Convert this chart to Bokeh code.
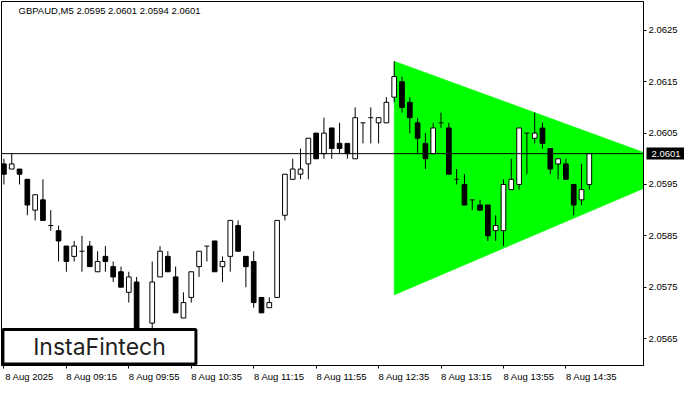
from bokeh.plotting import figure
from bokeh.models import FixedTicker, Span, Label, Range1d, PrintfTickFormatter, LinearAxis
from bokeh.embed import file_html
from bokeh.resources import INLINE

# ---------------- data ----------------
chart_title = "GBPAUD,M5  2.0595 2.0601 2.0594 2.0601"

opens = [2.0599, 2.0598, 2.0598, 2.0596, 2.0590, 2.0592, 2.0587, 2.0586, 2.0583, 2.0581,
         2.0582, 2.0583, 2.0578, 2.0581, 2.0579, 2.0578, 2.0574, 2.0576, 2.0565, 2.0568,
         2.0577, 2.0581, 2.0577, 2.0569, 2.0573, 2.0579, 2.0583, 2.0584, 2.0579, 2.0581,
         2.0587, 2.0581, 2.0580, 2.0573, 2.0571, 2.0573, 2.0589, 2.0596, 2.0597, 2.0599,
         2.0605, 2.0601, 2.0606, 2.0603, 2.0603, 2.0600, 2.0607, 2.0608, 2.0607, 2.0607,
         2.0612, 2.0615, 2.0611, 2.0607, 2.0603, 2.0601, 2.0607, 2.0606, 2.0596, 2.0595,
         2.0592, 2.0591, 2.0591, 2.0586, 2.0586, 2.0594, 2.0595, 2.0605, 2.0604, 2.0606,
         2.0602, 2.0599, 2.0599, 2.0595, 2.0592, 2.0595]
highs = [2.0600, 2.0601, 2.0598, 2.0596, 2.0593, 2.0596, 2.0590, 2.0587, 2.0583, 2.0584,
         2.0585, 2.0584, 2.0582, 2.0583, 2.0580, 2.0579, 2.0578, 2.0577, 2.0566, 2.0580,
         2.0583, 2.0582, 2.0579, 2.0574, 2.0578, 2.0582, 2.0583, 2.0584, 2.0581, 2.0588,
         2.0588, 2.0581, 2.0582, 2.0573, 2.0573, 2.0588, 2.0597, 2.0600, 2.0602, 2.0604,
         2.0605, 2.0608, 2.0606, 2.0607, 2.0603, 2.0610, 2.0607, 2.0610, 2.0608, 2.0612,
         2.0619, 2.0616, 2.0612, 2.0608, 2.0605, 2.0607, 2.0609, 2.0607, 2.0598, 2.0597,
         2.0592, 2.0592, 2.0591, 2.0589, 2.0596, 2.0600, 2.0606, 2.0605, 2.0609, 2.0607,
         2.0602, 2.0600, 2.0600, 2.0595, 2.0599, 2.0601]
lows = [2.0595, 2.0598, 2.0595, 2.0589, 2.0588, 2.0588, 2.0586, 2.0580, 2.0578, 2.0580,
        2.0578, 2.0579, 2.0578, 2.0578, 2.0576, 2.0575, 2.0572, 2.0564, 2.0563, 2.0566,
        2.0577, 2.0578, 2.0570, 2.0569, 2.0572, 2.0577, 2.0580, 2.0578, 2.0576, 2.0578,
        2.0582, 2.0575, 2.0571, 2.0570, 2.0571, 2.0573, 2.0588, 2.0596, 2.0596, 2.0596,
        2.0600, 2.0600, 2.0600, 2.0601, 2.0600, 2.0600, 2.0603, 2.0603, 2.0603, 2.0607,
        2.0611, 2.0609, 2.0605, 2.0601, 2.0598, 2.0601, 2.0606, 2.0597, 2.0595, 2.0591,
        2.0590, 2.0590, 2.0584, 2.0584, 2.0583, 2.0594, 2.0594, 2.0597, 2.0603, 2.0602,
        2.0597, 2.0596, 2.0596, 2.0589, 2.0591, 2.0594]
closes = [2.0597, 2.0599, 2.0597, 2.0591, 2.0593, 2.0588, 2.0587, 2.0584, 2.0580, 2.0583,
          2.0582, 2.0579, 2.0580, 2.0580, 2.0577, 2.0575, 2.0577, 2.0566, 2.0566, 2.0576,
          2.0582, 2.0578, 2.0570, 2.0572, 2.0578, 2.0582, 2.0583, 2.0578, 2.0580, 2.0588,
          2.0582, 2.0579, 2.0572, 2.0570, 2.0572, 2.0588, 2.0597, 2.0598, 2.0598, 2.0604,
          2.0600, 2.0605, 2.0602, 2.0602, 2.0601, 2.0608, 2.0607, 2.0608, 2.0608, 2.0611,
          2.0616, 2.0610, 2.0608, 2.0604, 2.0600, 2.0606, 2.0607, 2.0597, 2.0596, 2.0591,
          2.0592, 2.0590, 2.0585, 2.0587, 2.0595, 2.0596, 2.0606, 2.0605, 2.0605, 2.0603,
          2.0598, 2.0600, 2.0596, 2.0591, 2.0594, 2.0601]

x_tick_bars = [0, 8, 16, 24, 32, 40, 48, 56, 64, 72]
x_tick_labels = ["8 Aug 2025", "8 Aug 09:15", "8 Aug 09:55", "8 Aug 10:35", "8 Aug 11:15",
                 "8 Aug 11:55", "8 Aug 12:35", "8 Aug 13:15", "8 Aug 13:55", "8 Aug 14:35"]
y_ticks = [2.0565, 2.0575, 2.0585, 2.0595, 2.0605, 2.0615, 2.0625]
current_price = 2.0601

# symmetrical triangle pattern (bar index, price)
pattern_x = [50, 50, 87.8]
pattern_y = [2.0619, 2.05735, 2.0598]

brand = "InstaFintech"

# ---------------- chart ----------------
FONT = "Liberation Sans"
FS = "9.5px"
X0, X1 = -0.31, 81.94
Y0, Y1 = 2.055975, 2.0630625
W, H = 684, 384
RIGHT = 41
px_per_bar = (W - 1 - RIGHT) / (X1 - X0)
label_shift = 25.6 / px_per_bar   # MT4 style: each time label starts at its tick

p = figure(width=W, height=H, output_backend="svg", toolbar_location=None,
           x_range=Range1d(X0, X1), y_range=Range1d(Y0, Y1),
           y_axis_location="right",
           min_border_left=1, min_border_top=1, min_border_right=RIGHT, min_border_bottom=2)
p.xgrid.visible = False
p.ygrid.visible = False
p.background_fill_color = "white"
p.border_fill_color = "white"
p.outline_line_color = "black"
p.outline_line_width = 1
p.outline_line_alpha = 1.0

p.patch(pattern_x, pattern_y, fill_color="#00FF00", line_color="#00FF00", line_width=0.5)

idx = list(range(len(opens)))
bull = [i for i in idx if closes[i] > opens[i]]
bear = [i for i in idx if closes[i] < opens[i]]
doji = [i for i in idx if closes[i] == opens[i]]

p.segment(x0=idx, y0=lows, x1=idx, y1=highs, line_color="black", line_width=1)
p.vbar(x=bull, width=0.6, bottom=[opens[i] for i in bull], top=[closes[i] for i in bull],
       fill_color="white", line_color="black", line_width=1)
p.vbar(x=bear, width=0.6, bottom=[closes[i] for i in bear], top=[opens[i] for i in bear],
       fill_color="black", line_color="black", line_width=1)
p.segment(x0=[i - 0.32 for i in doji], x1=[i + 0.32 for i in doji],
          y0=[opens[i] for i in doji], y1=[opens[i] for i in doji],
          line_color="black", line_width=1)

p.add_layout(Span(location=current_price, dimension="width", line_color="black", line_width=1))

# ---- time axis: tick marks (minor) at bars, labels starting at each tick ----
label_pos = [t + label_shift for t in x_tick_bars]
p.xaxis.ticker = FixedTicker(ticks=label_pos, minor_ticks=x_tick_bars)
p.xaxis.major_label_overrides = {k: v for k, v in zip(label_pos, x_tick_labels)}
p.xaxis.major_tick_line_color = None
p.xaxis.major_tick_in = 0
p.xaxis.major_tick_out = 0
p.xaxis.minor_tick_in = 0
p.xaxis.minor_tick_out = 3
p.xaxis.minor_tick_line_color = "black"
p.xaxis.axis_line_color = "black"
p.xaxis.major_label_standoff = 2
p.xaxis.major_label_text_font = FONT
p.xaxis.major_label_text_font_size = FS
p.xaxis.major_label_text_color = "black"

# ---- right price axis ----
p.yaxis.ticker = FixedTicker(ticks=y_ticks)
p.yaxis.formatter = PrintfTickFormatter(format="%.4f")
p.yaxis.major_label_text_font = FONT
p.yaxis.major_label_text_font_size = FS
p.yaxis.major_label_text_color = "black"
p.yaxis.major_tick_in = 0
p.yaxis.major_tick_out = 3
p.yaxis.major_tick_line_color = "black"
p.yaxis.minor_tick_line_color = None
p.yaxis.axis_line_color = "black"
p.yaxis.major_label_standoff = 2

# current price tag (black box with white price) drawn as a thick tick on an extra axis
tag = LinearAxis(ticker=FixedTicker(ticks=[current_price]),
                 formatter=PrintfTickFormatter(format="%.4f"),
                 major_tick_in=34, major_tick_out=7, major_tick_line_width=12,
                 major_tick_line_color="black", minor_tick_line_color=None, axis_line_color=None,
                 major_label_standoff=-36, major_label_text_font=FONT,
                 major_label_text_font_size=FS, major_label_text_color="white")
p.add_layout(tag, "right")

# logo box
p.quad(left=[-0.125], right=[24.6], bottom=[2.056003], top=[2.056678],
       fill_color="white", line_color="black", line_width=3)
p.add_layout(Label(x=12.24, y=2.05634, text=brand, text_align="center", text_baseline="middle",
                   text_font="Inter", text_font_size="23px", text_color="#231F20"))

# title
p.add_layout(Label(x=X0, y=Y1, x_offset=17, y_offset=-9, text=chart_title,
                   text_align="left", text_baseline="middle",
                   text_font=FONT, text_font_size=FS, text_color="black"))

open("out.html", "w").write(file_html(p, INLINE))
